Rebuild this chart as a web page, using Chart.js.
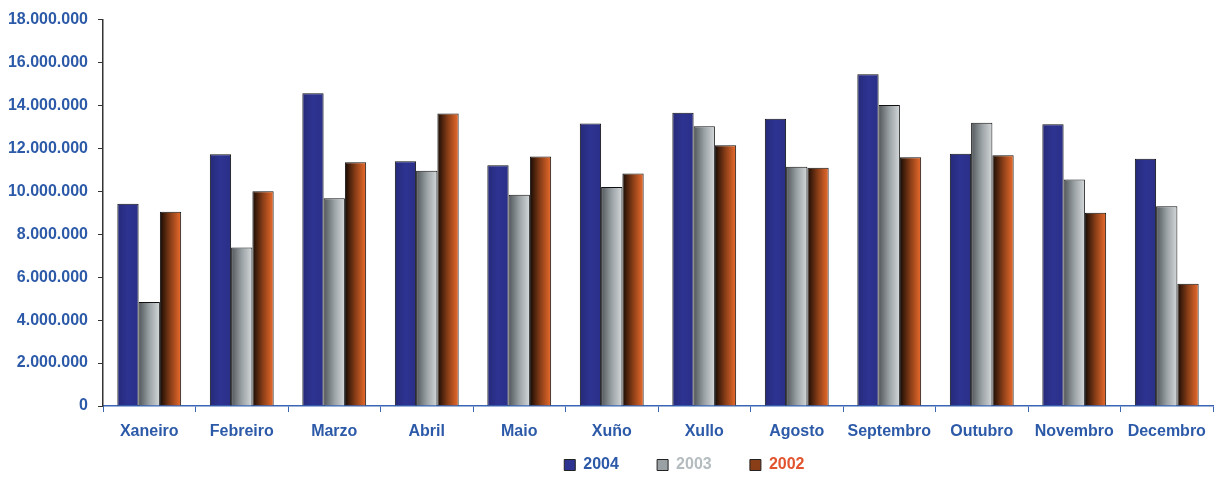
<!DOCTYPE html>
<html>
<head>
<meta charset="utf-8">
<script src="https://cdn.jsdelivr.net/npm/chart.js@4"></script>
<style>
  html, body { margin: 0; padding: 0; background: #fff; }
  #wrap { width: 1220px; height: 478px; }
</style>
</head>
<body>
<div id="wrap"><canvas id="bars"></canvas></div>
<script>
const months = ['Xaneiro', 'Febreiro', 'Marzo', 'Abril', 'Maio', 'Xuño', 'Xullo', 'Agosto', 'Septembro', 'Outubro', 'Novembro', 'Decembro'];
const years = ['2004', '2003', '2002'];
const values2004 = [9420000, 11730000, 14570000, 11400000, 11220000, 13160000, 13660000, 13380000, 15450000, 11750000, 13120000, 11520000];
const values2003 = [4850000, 7380000, 9680000, 10960000, 9840000, 10200000, 13030000, 11150000, 14020000, 13190000, 10550000, 9300000];
const values2002 = [9050000, 10000000, 11360000, 13620000, 11620000, 10830000, 12150000, 11100000, 11590000, 11680000, 9000000, 5700000];

const labelBlue = '#2c5aa8';
const legendColors = ['#2c5aa8', '#b4bcc0', '#e2532e'];
const groupPct = 0.69;
const font16 = { family: 'Liberation Sans, Arial, sans-serif', size: 16, weight: 'bold' };

// left -> right shading of each bar, like the 3d look of the original
const shades = [
    ['#262a7a', '#2d3391', '#2a2f88'],
    ['#50565a', '#9aa1a4', '#d4d8da'],
    ['#160a04', '#8a3e17', '#ec6c2c']
];

function barFill(ctx) {
    const chart = ctx.chart;
    const xs = chart.scales.x;
    const s = shades[ctx.datasetIndex];
    if (!xs || ctx.dataIndex === undefined) return s[1];
    const cat = xs.width / months.length;
    const bw = cat * groupPct / 3;
    const cx = xs.getPixelForValue(ctx.dataIndex) + (ctx.datasetIndex - 1) * bw;
    const g = chart.ctx.createLinearGradient(cx - bw / 2, 0, cx + bw / 2, 0);
    g.addColorStop(0, s[0]);
    g.addColorStop(0.5, s[1]);
    g.addColorStop(1, s[2]);
    return g;
}

function fmt(v) {
    return String(v).replace(/\B(?=(\d{3})+(?!\d))/g, '.');
}

const ctx = document.querySelector('#bars').getContext('2d');
new Chart(ctx, {
    type: 'bar',
    data: {
        labels: months,
        datasets: [values2004, values2003, values2002].map((vals, i) => ({
            label: years[i],
            data: vals,
            backgroundColor: barFill,
            borderColor: '#111',
            borderWidth: 1,
            borderSkipped: 'bottom',
            categoryPercentage: groupPct,
            barPercentage: 1
        }))
    },
    options: {
        responsive: true,
        maintainAspectRatio: false,
        animation: false,
        layout: { padding: { top: 5, right: 7, left: 0, bottom: -5 } },
        scales: {
            x: {
                grid: { drawOnChartArea: false, color: '#3a66b5', tickLength: 6, offset: true },
                border: { color: '#3a66b5', width: 1.5 },
                ticks: { color: labelBlue, font: font16, padding: 10, maxRotation: 0, autoSkip: false },
                afterFit: (s) => { s.height = 35; }
            },
            y: {
                min: 0,
                max: 18000000,
                ticks: {
                    stepSize: 2000000,
                    color: labelBlue,
                    font: font16,
                    padding: 10,
                    callback: (v) => fmt(v)
                },
                grid: { drawOnChartArea: false, color: '#333', tickLength: 5 },
                border: { color: '#333', width: 1.5 },
                afterFit: (s) => { s.width = 103; }
            }
        },
        plugins: {
            legend: {
                position: 'bottom',
                fullSize: false,
                labels: {
                    boxWidth: 11,
                    boxHeight: 11,
                    padding: 16,
                    font: font16,
                    // trailing spaces widen the entries; the empty first entry pushes the row right of centre
                    generateLabels: (chart) => [{
                        text: ''.padEnd(9, ' '), fillStyle: 'rgba(0,0,0,0)', strokeStyle: 'rgba(0,0,0,0)', lineWidth: 0, hidden: false
                    }].concat(years.map((y, i) => ({
                        text: y.padEnd(9, ' '),
                        fillStyle: shades[i][1],
                        strokeStyle: '#222',
                        lineWidth: 1,
                        fontColor: legendColors[i],
                        datasetIndex: i,
                        hidden: !chart.isDatasetVisible(i)
                    })))
                }
            },
            tooltip: { enabled: false }
        }
    }
});
</script>
</body>
</html>
